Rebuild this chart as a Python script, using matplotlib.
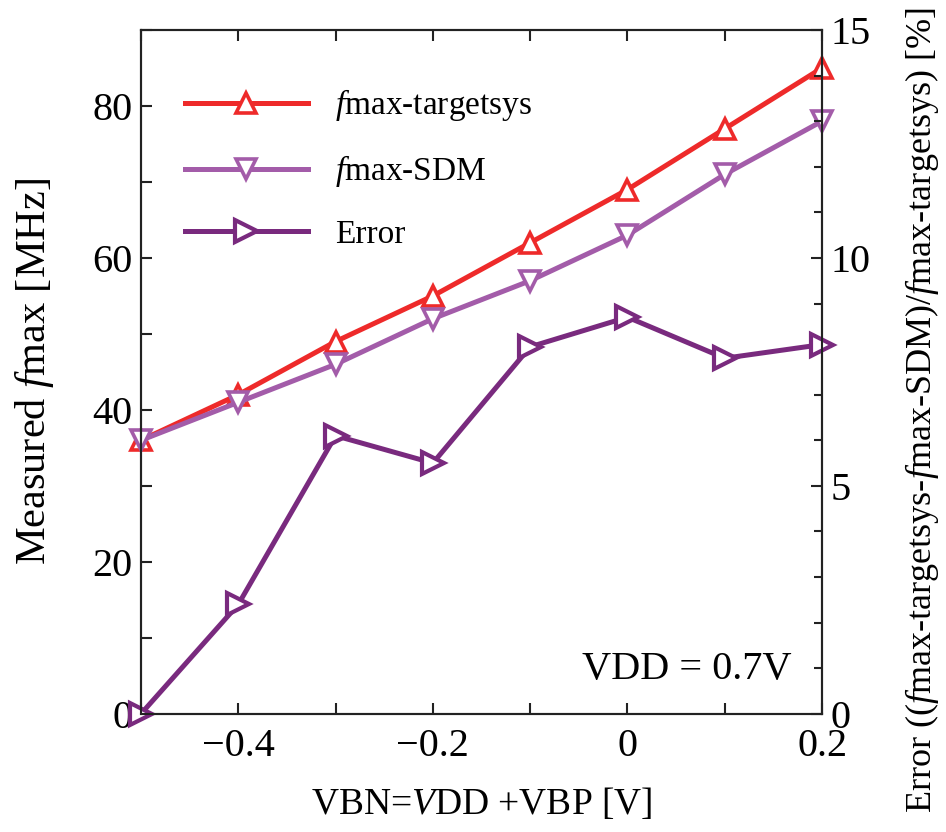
import matplotlib
matplotlib.use("Agg")
import matplotlib.pyplot as plt
from matplotlib.ticker import MultipleLocator, FuncFormatter

plt.rcParams['font.family'] = 'Liberation Serif'
plt.rcParams['mathtext.fontset'] = 'custom'
plt.rcParams['mathtext.rm'] = 'Liberation Serif'
plt.rcParams['mathtext.it'] = 'Liberation Serif:italic'

# Data
vbn = [-0.5, -0.4, -0.3, -0.2, -0.1, 0.0, 0.1, 0.2]
fmax_target = [36, 42, 49, 55, 62, 69, 77, 85]
fmax_sdm = [36, 41, 46, 52, 57, 63, 71, 78]
error_pct = [0.0, 2.4, 6.1, 5.5, 8.05, 8.7, 7.8, 8.1]

c_red = "#ee2a2a"
c_lilac = "#a35ca9"
c_purple = "#792a7e"

fs = 29
fig = plt.figure(figsize=(9.46, 8.32), dpi=100)
ax = fig.add_axes([0.149, 0.142, 0.720, 0.822])
ax2 = ax.twinx()

l1, = ax.plot(vbn, fmax_target, color=c_red, lw=3.6, marker="^", ms=15,
              mfc="white", mec=c_red, mew=2.6, label=r"$\it{f}$max-targetsys",
              clip_on=False)
l2, = ax.plot(vbn, fmax_sdm, color=c_lilac, lw=3.6, marker="v", ms=15,
              mfc="white", mec=c_lilac, mew=2.6, label=r"$\it{f}$max-SDM",
              clip_on=False)
l3, = ax2.plot(vbn, error_pct, color=c_purple, lw=3.6, marker=">", ms=16,
               mfc="white", mec=c_purple, mew=3, label="Error", clip_on=False)

ax.set_xlim(-0.5, 0.2)
ax.set_ylim(0, 90)
ax2.set_ylim(0, 15)

ax.xaxis.set_major_locator(MultipleLocator(0.2))
ax.xaxis.set_minor_locator(MultipleLocator(0.1))
ax.yaxis.set_major_locator(MultipleLocator(20))
ax.yaxis.set_minor_locator(MultipleLocator(10))
ax2.yaxis.set_major_locator(MultipleLocator(5))
ax2.yaxis.set_minor_locator(MultipleLocator(1))

def xfmt(x, _):
    if abs(x) < 1e-9:
        return "0"
    return "{:.1f}".format(x).replace("-", "\u2212")

ax.xaxis.set_major_formatter(FuncFormatter(xfmt))

for a in (ax, ax2):
    for s in a.spines.values():
        s.set_linewidth(1.5)
        s.set_color("#222222")
ax.tick_params(which="both", direction="in", length=8, width=1.5, color="#222222",
               top=True, labelsize=fs, pad=6)
ax.tick_params(axis="x", pad=10)
ax2.tick_params(which="both", direction="in", length=8, width=1.5, color="#222222",
                labelsize=fs, pad=6)
ax2.tick_params(which="minor", length=6)

ax.set_xlabel(r"VBN=$\it{V}$DD +VBP [V]", fontsize=27, labelpad=15)
ax.set_ylabel(r"Measured $\it{f}$max [MHz]", fontsize=30.5, labelpad=26)
fig.text(0.975, 1 - 410 / 832,
         r"Error (($\it{f}$max-targetsys-$\it{f}$max-SDM)/$\it{f}$max-targetsys) [%]",
         fontsize=26, rotation=90, ha="center", va="center")

ax.text(0.955, 0.065, "VDD = 0.7V", transform=ax.transAxes, fontsize=fs,
        ha="right", va="center")

ax2.legend(handles=[l1, l2, l3], loc="upper left", bbox_to_anchor=(0.02, 0.96),
           frameon=False, fontsize=24, handlelength=3.7, labelspacing=0.9,
           handletextpad=0.8)

fig.savefig("out.png", dpi=100)
